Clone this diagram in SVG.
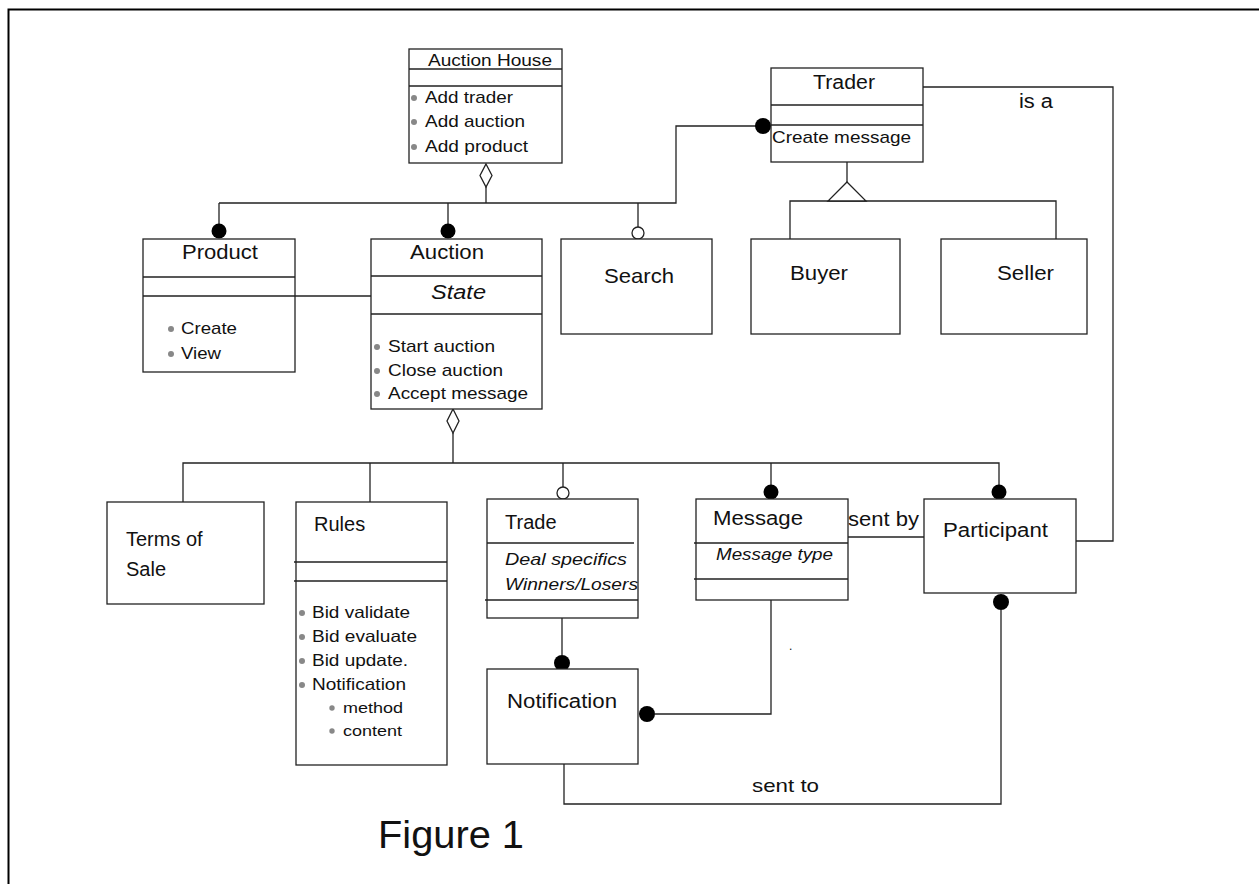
<svg xmlns="http://www.w3.org/2000/svg" width="1259" height="884" viewBox="0 0 1259 884">
<style>
.box{fill:#fff;stroke:#222;stroke-width:1.3}
.ln{fill:none;stroke:#222;stroke-width:1.3}
.t{font-family:"Liberation Sans",Arial,sans-serif;fill:#111}
.i{font-style:italic}
.bul{fill:#888}
.ball{fill:#000}
.open{fill:#fff;stroke:#222;stroke-width:1.3}
</style>
<rect width="1259" height="884" fill="#fff"/>
<path d="M8.5,884 V9.5 H1259" fill="none" stroke="#000" stroke-width="2"/>

<g id="connectors">
  <path class="ln" d="M219,203 H676 V126 H756"/>
  <path class="ln" d="M486,187 V203"/>
  <polygon class="open" points="486,164 492,175.5 486,187 480,175.5"/>
  <path class="ln" d="M219,203 V224"/>
  <circle class="ball" cx="219" cy="231" r="7.5"/>
  <path class="ln" d="M448,203 V224"/>
  <circle class="ball" cx="448" cy="231" r="7.5"/>
  <path class="ln" d="M638,203 V227"/>
  <circle class="open" cx="638" cy="233" r="6"/>
  <circle class="ball" cx="763" cy="126" r="8"/>
  <path class="ln" d="M847,162 V182"/>
  <path class="ln" d="M790,239 V201 H1056 V239"/>
  <polygon class="open" points="847,182 866,201 828,201"/>
  <path class="ln" d="M923,87 H1113 V541 H1076"/>
  <path class="ln" d="M295,296 H371"/>
  <path class="ln" d="M453,433 V463"/>
  <polygon class="open" points="453,409 459,421 453,433 447,421"/>
  <path class="ln" d="M183,502 V463 H999 V485"/>
  <path class="ln" d="M370,463 V502"/>
  <path class="ln" d="M563,463 V487"/>
  <circle class="open" cx="563" cy="493" r="6"/>
  <path class="ln" d="M771,463 V485"/>
  <circle class="ball" cx="771" cy="492" r="7.5"/>
  <circle class="ball" cx="999" cy="492" r="7.5"/>
  <path class="ln" d="M848,537 H924"/>
  <text class="t" x="848" y="526" font-size="20" textLength="71" lengthAdjust="spacingAndGlyphs">sent by</text>
  <text class="t" x="1019" y="108" font-size="20" textLength="34" lengthAdjust="spacingAndGlyphs">is a</text>
  <path class="ln" d="M562,618 V655"/>
  <circle class="ball" cx="562" cy="663" r="8"/>
  <path class="ln" d="M771,600 V714 H655"/>
  <circle class="ball" cx="647" cy="714" r="8"/>
  <circle class="ball" cx="1001" cy="602" r="8"/>
  <path class="ln" d="M1001,610 V804 H564 V763"/>
  <text class="t" x="752" y="792" font-size="19" textLength="67" lengthAdjust="spacingAndGlyphs">sent to</text>
  <text class="t" x="789" y="650" font-size="12">.</text>
</g>

<g id="auction-house">
  <rect class="box" x="409" y="49" width="153" height="114"/>
  <path class="ln" d="M409,69 H562 M409,86 H562"/>
  <text class="t" x="428" y="66" font-size="16.5" textLength="124" lengthAdjust="spacingAndGlyphs">Auction House</text>
  <circle class="bul" cx="414" cy="98" r="3"/>
  <circle class="bul" cx="414" cy="122" r="3"/>
  <circle class="bul" cx="414" cy="147" r="3"/>
  <text class="t" x="425" y="103" font-size="17" textLength="88" lengthAdjust="spacingAndGlyphs">Add trader</text>
  <text class="t" x="425" y="127" font-size="17" textLength="100" lengthAdjust="spacingAndGlyphs">Add auction</text>
  <text class="t" x="425" y="152" font-size="17" textLength="103" lengthAdjust="spacingAndGlyphs">Add product</text>
</g>

<g id="trader">
  <rect class="box" x="771" y="68" width="152" height="94"/>
  <path class="ln" d="M771,105 H923 M771,125 H923"/>
  <text class="t" x="813" y="89" font-size="20" textLength="62" lengthAdjust="spacingAndGlyphs">Trader</text>
  <text class="t" x="772" y="143" font-size="17" textLength="139" lengthAdjust="spacingAndGlyphs">Create message</text>
</g>

<g id="product">
  <rect class="box" x="143" y="239" width="152" height="133"/>
  <path class="ln" d="M143,277 H295 M143,296 H295"/>
  <text class="t" x="182" y="259" font-size="20" textLength="76" lengthAdjust="spacingAndGlyphs">Product</text>
  <circle class="bul" cx="171" cy="329" r="3"/>
  <circle class="bul" cx="171" cy="354" r="3"/>
  <text class="t" x="181" y="334" font-size="17" textLength="56" lengthAdjust="spacingAndGlyphs">Create</text>
  <text class="t" x="181" y="359" font-size="17" textLength="40" lengthAdjust="spacingAndGlyphs">View</text>
</g>

<g id="auction">
  <rect class="box" x="371" y="239" width="171" height="170"/>
  <path class="ln" d="M371,276 H542 M371,314 H542"/>
  <text class="t" x="410" y="259" font-size="20" textLength="74" lengthAdjust="spacingAndGlyphs">Auction</text>
  <text class="t i" x="431" y="299" font-size="20" textLength="55" lengthAdjust="spacingAndGlyphs">State</text>
  <circle class="bul" cx="377" cy="347" r="3"/>
  <circle class="bul" cx="377" cy="371" r="3"/>
  <circle class="bul" cx="377" cy="394" r="3"/>
  <text class="t" x="388" y="352" font-size="17" textLength="107" lengthAdjust="spacingAndGlyphs">Start auction</text>
  <text class="t" x="388" y="376" font-size="17" textLength="115" lengthAdjust="spacingAndGlyphs">Close auction</text>
  <text class="t" x="388" y="399" font-size="17" textLength="140" lengthAdjust="spacingAndGlyphs">Accept message</text>
</g>

<g id="search">
  <rect class="box" x="561" y="239" width="151" height="95"/>
  <text class="t" x="604" y="283" font-size="21" textLength="70" lengthAdjust="spacingAndGlyphs">Search</text>
</g>

<g id="buyer">
  <rect class="box" x="751" y="239" width="149" height="95"/>
  <text class="t" x="790" y="280" font-size="21" textLength="58" lengthAdjust="spacingAndGlyphs">Buyer</text>
</g>

<g id="seller">
  <rect class="box" x="941" y="239" width="146" height="95"/>
  <text class="t" x="997" y="280" font-size="21" textLength="57" lengthAdjust="spacingAndGlyphs">Seller</text>
</g>

<g id="terms-of-sale">
  <rect class="box" x="107" y="502" width="157" height="102"/>
  <text class="t" x="126" y="546" font-size="20">Terms of</text>
  <text class="t" x="126" y="576" font-size="20">Sale</text>
</g>

<g id="rules">
  <rect class="box" x="296" y="502" width="151" height="263"/>
  <path class="ln" d="M294,562 H447 M294,581 H447"/>
  <text class="t" x="314" y="531" font-size="20">Rules</text>
  <circle class="bul" cx="302" cy="613" r="3"/>
  <circle class="bul" cx="302" cy="637" r="3"/>
  <circle class="bul" cx="302" cy="661" r="3"/>
  <circle class="bul" cx="302" cy="685" r="3"/>
  <circle class="bul" cx="332" cy="708" r="2.7"/>
  <circle class="bul" cx="332" cy="731" r="2.7"/>
  <text class="t" x="312" y="618" font-size="16.5" textLength="98" lengthAdjust="spacingAndGlyphs">Bid validate</text>
  <text class="t" x="312" y="642" font-size="16.5" textLength="105" lengthAdjust="spacingAndGlyphs">Bid evaluate</text>
  <text class="t" x="312" y="666" font-size="16.5" textLength="96" lengthAdjust="spacingAndGlyphs">Bid update.</text>
  <text class="t" x="312" y="690" font-size="16.5" textLength="94" lengthAdjust="spacingAndGlyphs">Notification</text>
  <text class="t" x="343" y="713" font-size="14" textLength="60" lengthAdjust="spacingAndGlyphs">method</text>
  <text class="t" x="343" y="736" font-size="14" textLength="59" lengthAdjust="spacingAndGlyphs">content</text>
</g>

<g id="trade">
  <rect class="box" x="487" y="499" width="151" height="119"/>
  <path class="ln" d="M487,543 H634 M485,600 H638"/>
  <text class="t" x="505" y="529" font-size="20">Trade</text>
  <text class="t i" x="505" y="565" font-size="16.5" textLength="122" lengthAdjust="spacingAndGlyphs">Deal specifics</text>
  <text class="t i" x="505" y="590" font-size="16.5" textLength="133" lengthAdjust="spacingAndGlyphs">Winners/Losers</text>
</g>

<g id="message">
  <rect class="box" x="696" y="499" width="152" height="101"/>
  <path class="ln" d="M694,543 H848 M694,579 H848"/>
  <text class="t" x="713" y="525" font-size="20" textLength="90" lengthAdjust="spacingAndGlyphs">Message</text>
  <text class="t i" x="716" y="560" font-size="16" textLength="117" lengthAdjust="spacingAndGlyphs">Message type</text>
</g>

<g id="participant">
  <rect class="box" x="924" y="499" width="152" height="94"/>
  <text class="t" x="943" y="537" font-size="20" textLength="105" lengthAdjust="spacingAndGlyphs">Participant</text>
</g>

<g id="notification">
  <rect class="box" x="487" y="669" width="151" height="95"/>
  <text class="t" x="507" y="708" font-size="20" textLength="110" lengthAdjust="spacingAndGlyphs">Notification</text>
</g>

<text class="t" x="378" y="848" font-size="38" textLength="146" lengthAdjust="spacingAndGlyphs">Figure 1</text>
</svg>
